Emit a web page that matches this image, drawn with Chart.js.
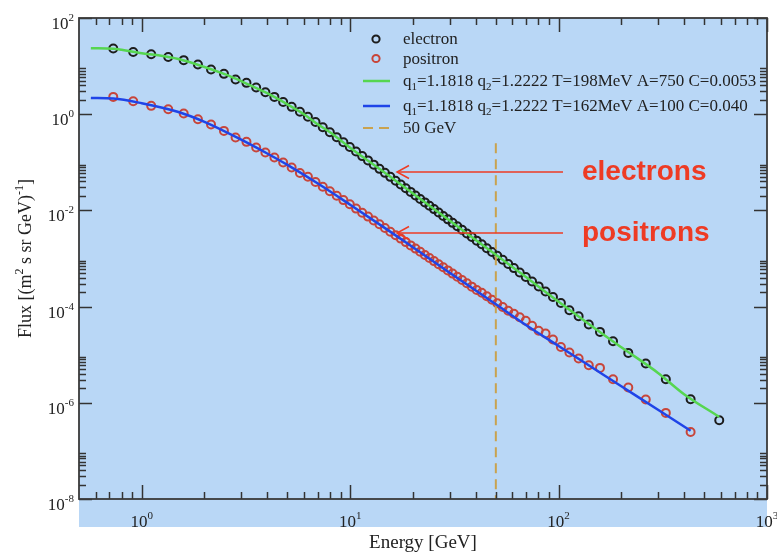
<!DOCTYPE html>
<html>
<head>
<meta charset="utf-8">
<script src="https://cdn.jsdelivr.net/npm/chart.js@4.4.0/dist/chart.umd.min.js"></script>
<style>
  html, body { margin: 0; padding: 0; background: #fff; }
</style>
</head>
<body>
<canvas id="fluxChart" width="777" height="556"></canvas>
<script>
// electron data points (energy in GeV, flux)
const elecEnergy = [0.73, 0.91, 1.11, 1.34, 1.59, 1.86, 2.15, 2.48, 2.82, 3.18,
  3.54, 3.92, 4.33, 4.77, 5.24, 5.74, 6.27, 6.82, 7.39, 7.99,
  8.62, 9.28, 9.96, 10.67, 11.42, 12.18, 12.98, 13.82, 14.68, 15.58,
  16.52, 17.48, 18.48, 19.51, 20.58, 21.68, 22.83, 24.01, 25.25, 26.57,
  27.96, 29.43, 31.0, 32.66, 34.43, 36.32, 38.33, 40.48, 42.78, 45.26,
  47.92, 50.8, 53.93, 57.33, 61.03, 65.1, 69.6, 74.6, 80.26, 86.6,
  94.0, 102.6, 112.7, 124.8, 139.6, 158.0, 182.5, 216.0, 262.0, 327.0,
  430.0, 590.0];
const elecFlux = [23.2, 19.7, 17.7, 15.5, 13.3, 10.8, 8.5, 6.9, 5.26, 4.48,
  3.59, 2.87, 2.29, 1.80, 1.42, 1.127, 0.883, 0.688, 0.537, 0.422,
  0.331, 0.262, 0.2085, 0.1674, 0.1346, 0.1096, 0.0894, 0.0731, 0.0603, 0.0498,
  0.0413, 0.0345, 0.0289, 0.02426, 0.02046, 0.01731, 0.01468, 0.01249, 0.01063, 0.00903,
  0.00767, 0.00651, 0.00551, 0.00467, 0.00394, 0.00332, 0.0028, 0.00235, 0.00197, 0.00164,
  0.00137, 0.001134, 0.000938, 0.00077, 0.000631, 0.000513, 0.000414, 0.000332, 0.000263, 0.000206,
  0.000158, 1.19e-4, 8.42e-5, 6.31e-5, 4.24e-5, 2.98e-5, 1.91e-5, 1.09e-5, 6.56e-6, 3.10e-6,
  1.19e-6, 4.35e-7];

// positron data points
const posEnergy = [0.73, 0.91, 1.11, 1.34, 1.59, 1.86, 2.15, 2.48, 2.82, 3.18,
  3.54, 3.92, 4.33, 4.77, 5.24, 5.74, 6.27, 6.82, 7.39, 7.99,
  8.62, 9.28, 9.96, 10.67, 11.42, 12.18, 12.98, 13.82, 14.68, 15.58,
  16.52, 17.48, 18.48, 19.51, 20.58, 21.68, 22.83, 24.01, 25.25, 26.57,
  27.96, 29.43, 31.0, 32.66, 34.43, 36.32, 38.33, 40.48, 42.78, 45.26,
  47.92, 50.8, 53.93, 57.33, 61.03, 65.1, 69.6, 74.6, 80.26, 86.6,
  94.0, 102.6, 112.7, 124.8, 139.6, 158.0, 182.5, 216.0, 262.0, 327.0,
  430.0];
const posFlux = [2.29, 1.86, 1.49, 1.27, 1.03, 0.787, 0.611, 0.45, 0.328, 0.266,
  0.203, 0.16, 0.126, 0.099, 0.078, 0.06, 0.05, 0.0391, 0.0311, 0.02507,
  0.02011, 0.01637, 0.01338, 0.0109, 0.00896, 0.00743, 0.00617, 0.00514, 0.00431, 0.00361,
  0.00305, 0.00259, 0.00219, 0.001873, 0.001606, 0.001378, 0.001182, 0.001024, 0.000883, 0.000761,
  0.000656, 0.000566, 0.000485, 0.000416, 0.000357, 0.000305, 0.00026, 0.000222, 0.0001945, 0.0001645,
  0.0001391, 0.0001177, 9.81e-5, 8.22e-5, 7.12e-5, 6.02e-5, 5.09e-5, 4.01e-5, 3.15e-5, 2.76e-5,
  2.07e-5, 1.45e-5, 1.11e-5, 8.34e-6, 6.05e-6, 5.32e-6, 3.10e-6, 2.08e-6, 1.17e-6, 6.17e-7,
  2.48e-7];

// fit curves
const fitElecEnergy = [0.57, 0.73, 0.8, 1, 1.2, 1.5, 2, 2.5, 3, 4, 5, 6, 7, 8, 10, 15, 20, 30, 50, 70, 100, 150, 200, 300, 400, 590];
const fitElecFlux = [23.6, 23.0, 21.9, 18.5, 16.8, 14.0, 9.58, 6.79, 4.86, 2.73, 1.60, 1.0, 0.614, 0.422, 0.2, 0.0563, 0.0225, 0.00614, 0.00119, 4.06e-4, 1.26e-4, 3.47e-5, 1.43e-5, 4.18e-6, 1.51e-6, 5.09e-7];
const fitPosEnergy = [0.57, 0.73, 1, 1.5, 2, 3, 4, 5, 7, 10, 15, 20, 30, 50, 70, 100, 150, 200, 300, 430];
const fitPosFlux = [2.18, 2.12, 1.69, 1.11, 0.692, 0.295, 0.1524, 0.0883, 0.0362, 0.01313, 0.00403, 0.00171, 5.07e-4, 1.12e-4, 4.1e-5, 1.52e-5, 4.92e-6, 2.21e-6, 7.15e-7, 2.63e-7];

// 50 GeV marker
const markEnergy = [50, 50];
const markFlux = [0.25, 1e-8];

// axis decoration
const xTickExp = [0, 1, 2, 3];
const yTickExp = [-8, -6, -4, -2, 0, 2];
const minorMult = [2, 3, 4, 5, 6, 7, 8, 9];

const SERIF = '"Liberation Serif", "DejaVu Serif", serif';

function pts(xs, ys) {
  return xs.map((x, i) => ({ x: x, y: ys[i] }));
}

// text with _x / ^x (or _{..} / ^{..}) sub- and superscripts
function parseRich(str) {
  const parts = [];
  let i = 0, buf = '';
  while (i < str.length) {
    const c = str[i];
    if (c === '_' || c === '^') {
      if (buf) { parts.push({ t: buf, s: 0 }); buf = ''; }
      let t;
      if (str[i + 1] === '{') {
        const j = str.indexOf('}', i);
        t = str.slice(i + 2, j);
        i = j + 1;
      } else {
        t = str[i + 1];
        i += 2;
      }
      parts.push({ t: t, s: c === '_' ? -1 : 1 });
    } else {
      buf += c;
      i++;
    }
  }
  if (buf) parts.push({ t: buf, s: 0 });
  return parts;
}

function drawRich(ctx, str, x, y, size, align, small) {
  const parts = parseRich(str);
  const sm = small || Math.round(size * 0.65);
  let w = 0;
  parts.forEach(p => {
    ctx.font = (p.s ? sm : size) + 'px ' + SERIF;
    p.w = ctx.measureText(p.t).width;
    w += p.w;
  });
  let cx = x;
  if (align === 'center') cx = x - w / 2;
  if (align === 'right') cx = x - w;
  ctx.textAlign = 'left';
  parts.forEach(p => {
    ctx.font = (p.s ? sm : size) + 'px ' + SERIF;
    let dy = 0;
    if (p.s === 1) dy = -size * 0.47;
    if (p.s === -1) dy = size * 0.25;
    ctx.fillText(p.t, cx, y + dy);
    cx += p.w;
  });
  return w;
}

const decor = {
  id: 'decor',
  beforeDraw(chart) {
    const { ctx, chartArea: a } = chart;
    ctx.save();
    ctx.fillStyle = '#b9d7f6';
    ctx.fillRect(a.left, a.top, a.right - a.left, a.bottom - a.top + 28);
    ctx.restore();
  },
  afterDraw(chart) {
    const { ctx, chartArea: a } = chart;
    const xs = chart.scales.x, ys = chart.scales.y;
    ctx.save();
    ctx.strokeStyle = '#333';
    ctx.lineWidth = 1.5;

    // ticks on all four sides
    const line = (x1, y1, x2, y2) => { ctx.beginPath(); ctx.moveTo(x1, y1); ctx.lineTo(x2, y2); ctx.stroke(); };
    xTickExp.forEach(e => {
      const px = Math.round(xs.getPixelForValue(Math.pow(10, e))) + 0.5;
      line(px, a.bottom, px, a.bottom - 14);
      line(px, a.top, px, a.top + 14);
      minorMult.forEach(m => {
        const v = m * Math.pow(10, e - 1);
        if (v > 0.5 && v < 1000) {
          const mx = Math.round(xs.getPixelForValue(v)) + 0.5;
          line(mx, a.bottom, mx, a.bottom - 7);
          line(mx, a.top, mx, a.top + 7);
        }
      });
    });
    yTickExp.forEach(e => {
      const py = Math.round(ys.getPixelForValue(Math.pow(10, e))) + 0.5;
      line(a.left, py, a.left + 13, py);
      line(a.right, py, a.right - 13, py);
      if (e < 2) {
        minorMult.forEach(m => {
          const my = Math.round(ys.getPixelForValue(m * Math.pow(10, e))) + 0.5;
          line(a.left, my, a.left + 7, my);
          line(a.right, my, a.right - 7, my);
        });
      }
    });

    // frame
    ctx.strokeStyle = '#3a3a3a';
    ctx.lineWidth = 1.8;
    ctx.strokeRect(a.left, a.top, a.right - a.left, a.bottom - a.top);

    // tick labels
    ctx.fillStyle = '#222';
    ctx.textBaseline = 'alphabetic';
    xTickExp.forEach(e => {
      const px = xs.getPixelForValue(Math.pow(10, e));
      drawRich(ctx, '10^{' + e + '}', px, a.bottom + 28, 17, 'center', 11);
    });
    yTickExp.forEach(e => {
      const py = ys.getPixelForValue(Math.pow(10, e));
      drawRich(ctx, '10^{' + e + '}', a.left - 5, py + 11, 17, 'right', 11);
    });

    // axis titles
    drawRich(ctx, 'Energy [GeV]', (a.left + a.right) / 2, 548, 19, 'center');
    ctx.save();
    ctx.translate(0, (a.top + a.bottom) / 2);
    ctx.rotate(-Math.PI / 2);
    drawRich(ctx, 'Flux [(m^2 s sr GeV)^{-1}]', 0, 31, 18, 'center', 12);
    ctx.restore();

    // legend
    const rows = [39, 58.5, 81, 106, 128];
    chart.data.datasets.forEach((ds, i) => {
      const y = rows[i];
      ctx.save();
      if (ds.showLine === false) {
        ctx.strokeStyle = ds.borderColor;
        ctx.lineWidth = 2;
        ctx.beginPath();
        ctx.arc(376, y, 3.6, 0, Math.PI * 2);
        ctx.stroke();
      } else {
        ctx.strokeStyle = ds.borderColor;
        ctx.lineWidth = ds.borderWidth;
        ctx.setLineDash(ds.borderDash || []);
        ctx.beginPath();
        ctx.moveTo(363, y);
        ctx.lineTo(390, y);
        ctx.stroke();
      }
      ctx.restore();
      ctx.fillStyle = '#222';
      drawRich(ctx, ds.label, 403, y + 5, 17, 'left', 11);
    });

    // annotations
    const red = '#ee3b24';
    ctx.strokeStyle = red;
    ctx.fillStyle = red;
    ctx.lineWidth = 1.5;
    [[172, 'electrons'], [233, 'positrons']].forEach(([y, txt]) => {
      line(563, y, 397, y);
      ctx.beginPath();
      ctx.moveTo(409, y - 6.5);
      ctx.lineTo(397, y);
      ctx.lineTo(409, y + 6.5);
      ctx.stroke();
      ctx.font = 'bold 28px "Liberation Sans", Arial, sans-serif';
      ctx.textAlign = 'left';
      ctx.textBaseline = 'middle';
      ctx.fillText(txt, 582, y);
    });
    ctx.restore();
  }
};

new Chart(document.getElementById('fluxChart').getContext('2d'), {
  type: 'scatter',
  data: {
    datasets: [
      {
        label: 'electron',
        data: pts(elecEnergy, elecFlux),
        showLine: false,
        borderColor: '#1c1c1c',
        backgroundColor: 'rgba(0,0,0,0)',
        borderWidth: 2,
        pointRadius: 4,
        order: 5
      },
      {
        label: 'positron',
        data: pts(posEnergy, posFlux),
        showLine: false,
        borderColor: '#c8453a',
        backgroundColor: 'rgba(0,0,0,0)',
        borderWidth: 2,
        pointRadius: 4,
        order: 4
      },
      {
        label: 'q_1=1.1818 q_2=1.2222 T=198MeV A=750 C=0.0053',
        data: pts(fitElecEnergy, fitElecFlux),
        showLine: true,
        borderColor: '#56d650',
        borderWidth: 2.5,
        pointRadius: 0,
        cubicInterpolationMode: 'monotone',
        order: 2
      },
      {
        label: 'q_1=1.1818 q_2=1.2222 T=162MeV A=100 C=0.040',
        data: pts(fitPosEnergy, fitPosFlux),
        showLine: true,
        borderColor: '#1f44e8',
        borderWidth: 2.5,
        pointRadius: 0,
        cubicInterpolationMode: 'monotone',
        order: 1
      },
      {
        label: '50 GeV',
        data: pts(markEnergy, markFlux),
        showLine: true,
        borderColor: '#c9a24f',
        borderWidth: 2,
        borderDash: [10, 6],
        pointRadius: 0,
        order: 3
      }
    ]
  },
  options: {
    responsive: false,
    animation: false,
    devicePixelRatio: 1,
    layout: { padding: { left: 79, right: 10, top: 18, bottom: 57 } },
    plugins: { legend: { display: false }, tooltip: { enabled: false } },
    scales: {
      x: { type: 'logarithmic', min: 0.5, max: 1000, display: false },
      y: { type: 'logarithmic', min: 1e-8, max: 100, display: false }
    }
  },
  plugins: [decor]
});
</script>
</body>
</html>
